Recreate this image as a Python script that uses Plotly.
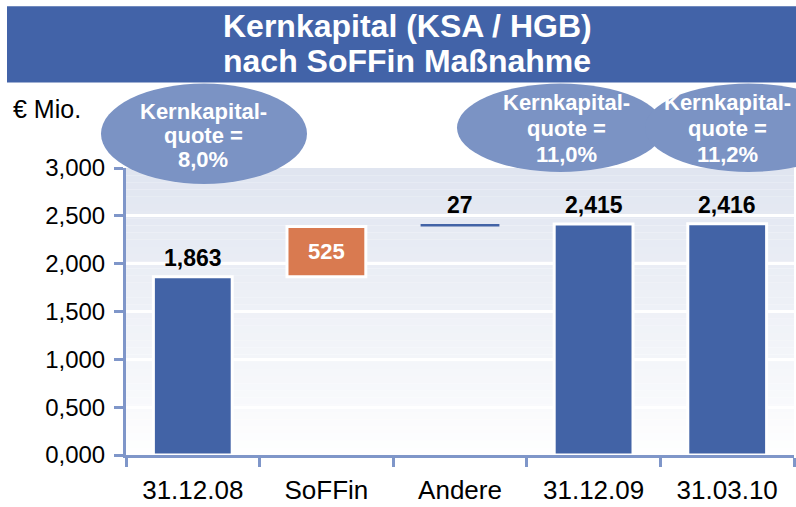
import plotly.graph_objects as go

# ---- data ----
categories = ["31.12.08", "SoFFin", "Andere", "31.12.09", "31.03.10"]
bar_values = [1863, 525, 27, 2415, 2416]
bar_bases = [0, 1863, 2388, 0, 0]
y_tick_vals = [0, 500, 1000, 1500, 2000, 2500, 3000]
y_tick_labels = ["0,000", "0,500", "1,000", "1,500", "2,000", "2,500", "3,000"]
quote_labels = ["8,0%", "11,0%", "11,2%"]
title_lines = ["Kernkapital (KSA / HGB)", "nach SoFFin Maßnahme"]
unit_label = "€ Mio."

# ---- style ----
W, H = 796, 507
L, R, T, B = 126, 2, 168, 50
FONT = "Liberation Sans, Arial, sans-serif"
BLUE = "#4263A6"
ORANGE = "#D97A50"
ELL = "#7B93C4"
AXIS = "#7F96C9"
BANNER = "#4263A8"

pw = W - L - R
ph = H - T - B


def px(x):
    return (x - L) / pw


def py(y):
    return (H - B - y) / ph


bar_colors = [BLUE, ORANGE, BLUE, BLUE, BLUE]
line_widths = [3, 3, 0, 3, 3]
text_inside = ["", f"{bar_values[1]:,}", "", "", ""]

fig = go.Figure()
fig.add_trace(go.Bar(
    x=categories, y=bar_values, base=bar_bases,
    marker=dict(color=bar_colors, line=dict(color="white", width=line_widths)),
    width=0.59,
    text=text_inside, textposition="inside", insidetextanchor="middle",
    textfont=dict(family=FONT, size=22, color="white", weight="bold"),
    cliponaxis=False, hoverinfo="skip",
))

shapes = []
# gradient background of the plot area
n = 40
top = (224, 229, 240)
for i in range(n):
    f = (i + 0.5) / n
    c = tuple(int(round(255 + (t - 255) * f ** 0.9)) for t in top)
    shapes.append(dict(type="rect", xref="paper", yref="paper",
                       x0=0, x1=1, y0=i / n, y1=(i + 1) / n,
                       fillcolor=f"rgb{c}", line=dict(width=0), layer="below"))

# title banner
shapes.append(dict(type="rect", xref="paper", yref="paper",
                   x0=px(7), x1=px(796), y0=py(82), y1=py(5),
                   fillcolor=BANNER, line=dict(width=0), layer="above"))

# ellipses
ellipses = [(101, 307, 83, 184), (457, 664, 83, 172), (645, 852, 83, 172)]
for (x0, x1, y0, y1) in ellipses:
    shapes.append(dict(type="circle", xref="paper", yref="paper",
                       x0=px(x0), x1=px(x1), y0=py(y1), y1=py(y0),
                       fillcolor=ELL, line=dict(width=0), layer="above"))

annotations = []
# title
for line, yy in zip(title_lines, [25, 60]):
    annotations.append(dict(text=f"<b>{line}</b>", x=px(407), y=py(yy), xref="paper", yref="paper",
                            showarrow=False, font=dict(family=FONT, size=32, color="white"),
                            xanchor="center", yanchor="middle"))
# unit
annotations.append(dict(text=unit_label, x=px(11), y=py(109), xref="paper", yref="paper",
                        showarrow=False, font=dict(family=FONT, size=25, color="black"),
                        xanchor="left", yanchor="middle"))
# ellipse texts
ell_text = [(203, [111, 135, 159]), (566, [102, 128, 154]), (727, [102, 128, 154])]
for (cx, ys), q in zip(ell_text, quote_labels):
    for line, yy in zip(["Kernkapital-", "quote =", q], ys):
        annotations.append(dict(text=f"<b>{line}</b>", x=px(cx), y=py(yy), xref="paper", yref="paper",
                                showarrow=False, font=dict(family=FONT, size=22, color="white"),
                                xanchor="center", yanchor="middle"))
# value labels above bars
for i, (c, v, b) in enumerate(zip(categories, bar_values, bar_bases)):
    if i == 1:
        continue
    annotations.append(dict(text=f"<b>{v:,}</b>", x=c, y=v + b, xref="x", yref="y",
                            showarrow=False, font=dict(family=FONT, size=23, color="black"),
                            xanchor="center", yanchor="bottom", yshift=4))

fig.update_layout(
    width=W, height=H,
    margin=dict(l=L, r=R, t=T, b=B),
    paper_bgcolor="white", plot_bgcolor="rgba(0,0,0,0)",
    showlegend=False,
    shapes=shapes, annotations=annotations,
    xaxis=dict(type="category", range=[-0.5, 4.5], showgrid=False, showline=True,
               linecolor=AXIS, linewidth=3, ticks="outside", ticklen=9, tickwidth=3,
               tickcolor=AXIS, tickson="boundaries",
               tickfont=dict(family=FONT, size=26, color="black"), ticklabelstandoff=10),
    yaxis=dict(range=[0, 3000], tickvals=y_tick_vals, ticktext=y_tick_labels,
               showgrid=True, gridcolor="white", gridwidth=3, zeroline=False,
               showline=True, linecolor=AXIS, linewidth=3, ticks="outside", ticklen=9,
               tickwidth=3, tickcolor=AXIS, ticklabelstandoff=4,
               tickfont=dict(family=FONT, size=24, color="black")),
)

fig.write_html("out.html", config={"displayModeBar": False},
               post_script="document.body.style.margin='0';document.body.style.overflow='hidden';")
